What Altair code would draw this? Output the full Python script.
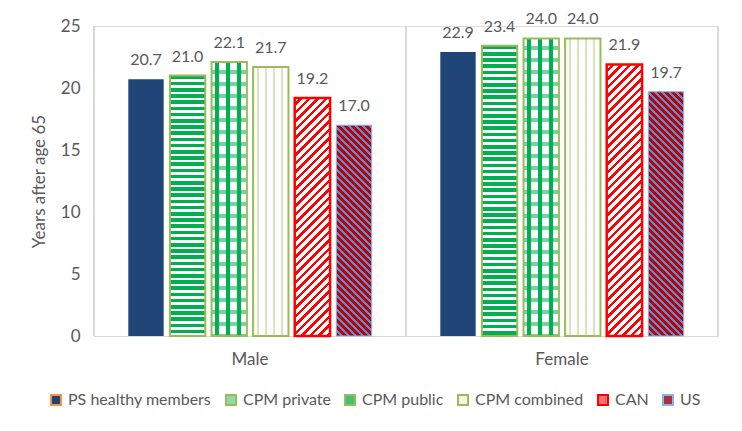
import altair as alt
import pandas as pd

# ---------------- data ----------------
sexes = ["Male", "Female"]
series = ["PS healthy members", "CPM private", "CPM public", "CPM combined", "CAN", "US"]
male_values = [20.7, 21.0, 22.1, 21.7, 19.2, 17.0]
female_values = [22.9, 23.4, 24.0, 24.0, 21.9, 19.7]
y_ticks = [0, 5, 10, 15, 20, 25]

rows = []
for sex, vals in zip(sexes, [male_values, female_values]):
    for s, v in zip(series, vals):
        rows.append({"sex": sex, "series": s, "value": v})
df = pd.DataFrame(rows)

# ---------------- geometry / styles ----------------
W, H = 624, 310
YMAX = 25
OFF_PAD_IN, OFF_PAD_OUT = 0.15, 0.825
band = W / 2
off_step = band / (6 - OFF_PAD_IN + 2 * OFF_PAD_OUT)
BAR_W = off_step * (1 - OFF_PAD_IN)

GREEN = "#00B050"
OLIVE = "#9BBB59"
NAVY = "#1F4677"
RED = "#FF0000"
DKRED = "#C00000"
BLUE = "#558ED5"
GREY = "#595959"
LINE = "#D9D9D9"
FONT = "Lato"


def stops_from_pattern(pattern, length):
    stops = []
    pos = 0.0
    while pos < length - 1e-9:
        for color, wid in pattern:
            if pos >= length - 1e-9:
                break
            end = min(pos + wid, length)
            stops.append({"offset": round(pos / length, 5), "color": color})
            stops.append({"offset": round(end / length, 5), "color": color})
            pos += wid
    return stops


def grad_h(pattern, h):  # horizontal stripes
    return {"gradient": "linear", "x1": 0, "y1": 0, "x2": 0, "y2": 1,
            "stops": stops_from_pattern(pattern, h)}


def grad_v(pattern, w):  # vertical stripes
    return {"gradient": "linear", "x1": 0, "y1": 0, "x2": 1, "y2": 0,
            "stops": stops_from_pattern(pattern, w)}


def grad_diag(pattern, w, h, up=True):  # 45 degree stripes
    c = (w + h) / (w * w + h * h)
    if up:  # "/"
        x1, y1, x2, y2 = 0, 0, w * c, h * c
    else:   # "\"
        x1, y1, x2, y2 = 0, 1, w * c, 1 - h * c
    return {"gradient": "linear", "x1": x1, "y1": y1, "x2": x2, "y2": y2,
            "stops": stops_from_pattern(pattern, w + h)}


def bar_styles(s, v):
    h = v / YMAX * H
    w = BAR_W
    if s == "PS healthy members":
        return [dict(fill=NAVY)], None
    if s == "CPM private":
        return [dict(fill=grad_h([(GREEN, 3.6), ("#FFFFFF", 2.6)], h))], dict(stroke=OLIVE, strokeWidth=2)
    if s == "CPM public":
        return [dict(fill=grad_v([("#FFFFFF", 3), (GREEN, 4), ("#FFFFFF", 4)], w)),
                dict(fill=grad_h([("rgba(255,255,255,0)", 8.0), ("rgba(0,176,80,0.55)", 4.0)], h))], \
            dict(stroke=OLIVE, strokeWidth=2)
    if s == "CPM combined":
        return [dict(fill=grad_v([("#FFFFFF", 3.5), ("#D7E4BD", 2.0), ("#FFFFFF", 2.5)], w))], \
            dict(stroke=OLIVE, strokeWidth=2)
    if s == "CAN":
        return [dict(fill=grad_diag([("#FFFFFF", 5.0), (RED, 3.5)], w, h, up=True))], \
            dict(stroke=RED, strokeWidth=2.5)
    return [dict(fill=grad_diag([(DKRED, 4.6), (BLUE, 2.4)], w, h, up=False))], \
        dict(stroke="#8DB3E2", strokeWidth=1)


legend_fills = [NAVY, "#8FD9AE", "#45C07A", "#F2F6E8", "#FF7070", "#A83040"]
legend_strokes = ["#F79646", OLIVE, OLIVE, OLIVE, RED, "#8DB3E2"]

# ---------------- encodings ----------------
x_scale = alt.Scale(domain=sexes, paddingInner=0, paddingOuter=0)
x_axis = alt.Axis(labelAngle=0, labelFontSize=17, labelColor=GREY, labelPadding=15,
                  ticks=False, domainColor=LINE, domainWidth=1, grid=False, labelFont=FONT)
x_enc = alt.X("sex:N", sort=sexes, title=None, scale=x_scale, axis=x_axis)
xo_enc = alt.XOffset("series:N", sort=series,
                     scale=alt.Scale(domain=series, paddingInner=OFF_PAD_IN, paddingOuter=OFF_PAD_OUT))
y_enc = alt.Y("value:Q", title="Years after age 65",
              scale=alt.Scale(domain=[0, YMAX], nice=False),
              axis=alt.Axis(values=y_ticks, grid=False, ticks=False, domainColor=LINE,
                            labelFontSize=17, labelColor=GREY, labelPadding=14, labelFont=FONT,
                            titleFontSize=17, titleFontWeight="normal", titleColor=GREY,
                            titleFont=FONT, titlePadding=12))

base = alt.Chart(df).encode(x=x_enc, xOffset=xo_enc, y=y_enc)
plain = alt.Chart(df)

layers = []
# separators between categories (no xOffset)
for bp in (0, 1):
    layers.append(plain.mark_rule(color=LINE, strokeWidth=1).encode(
        x=alt.X("sex:N", sort=sexes, bandPosition=bp, title=None, scale=x_scale, axis=x_axis),
        y=alt.value(0), y2=alt.value(H)))

# empty layer carrying the legend
leg = alt.Legend(title=None, orient="none", legendX=-46, legendY=366, direction="horizontal",
                 labelFontSize=16, labelColor=GREY, labelFont=FONT, symbolType="square",
                 symbolSize=100, symbolStrokeWidth=2, columnPadding=10, labelOffset=4,
                 labelLimit=400)
layers.append(base.transform_filter("false").mark_bar().encode(
    fill=alt.Fill("series:N", sort=series, scale=alt.Scale(domain=series, range=legend_fills), legend=leg),
    stroke=alt.Stroke("series:N", sort=series, scale=alt.Scale(domain=series, range=legend_strokes), legend=leg)))

for sex, vals in zip(sexes, [male_values, female_values]):
    for s, v in zip(series, vals):
        fills, outline = bar_styles(s, v)
        sel = base.transform_filter((alt.datum.sex == sex) & (alt.datum.series == s))
        for f in fills:
            layers.append(sel.mark_bar(**f))
        if outline:
            layers.append(sel.mark_bar(fillOpacity=0, **outline))

layers.append(base.mark_text(baseline="alphabetic", dy=-14, fontSize=16, color=GREY, font=FONT).encode(
    text=alt.Text("value:Q", format=".1f")))

chart = alt.layer(*layers).properties(
    width=W, height=H, padding={"left": 22, "top": 3, "right": 5, "bottom": 5}
).configure_view(stroke=None).configure(font=FONT)

chart.save("out.html", embed_options={"renderer": "svg", "actions": False})
